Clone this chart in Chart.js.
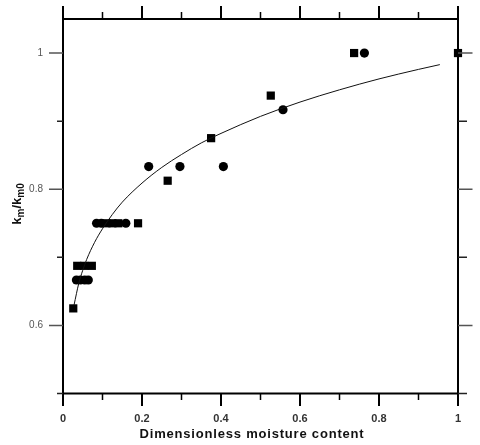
<!DOCTYPE html>
<html>
<head>
<meta charset="utf-8">
<script src="https://cdn.jsdelivr.net/npm/chart.js@4.4.1/dist/chart.umd.min.js"></script>
<style>
  html, body { margin: 0; padding: 0; background: #fff; }
  #wrap { width: 480px; height: 445px; position: relative; }
</style>
</head>
<body>
<div id="wrap"><canvas id="c" width="480" height="445"></canvas></div>
<script>
// ---- data ----
const squareX = [0.026, 0.036, 0.054, 0.073, 0.110, 0.125, 0.140, 0.190, 0.265, 0.375, 0.526, 0.737, 1.000];
const squareY = [0.625, 0.6875, 0.6875, 0.6875, 0.75, 0.75, 0.75, 0.75, 0.8125, 0.875, 0.9375, 1.0, 1.0];
const circleX = [0.034, 0.044, 0.055, 0.064, 0.085, 0.097, 0.159, 0.217, 0.296, 0.406, 0.557, 0.763];
const circleY = [0.6667, 0.6667, 0.6667, 0.6667, 0.75, 0.75, 0.75, 0.8333, 0.8333, 0.8333, 0.9167, 1.0];
const curveX = [0.028, 0.040, 0.050, 0.060, 0.080, 0.100, 0.125, 0.150, 0.200, 0.250, 0.300, 0.350, 0.400, 0.500, 0.600, 0.700, 0.800, 0.900, 0.954];
const curveY = [0.630, 0.662, 0.681, 0.697, 0.722, 0.742, 0.763, 0.781, 0.809, 0.832, 0.851, 0.868, 0.882, 0.907, 0.928, 0.946, 0.962, 0.976, 0.983];

const xTickValues = [0, 0.1, 0.2, 0.3, 0.4, 0.5, 0.6, 0.7, 0.8, 0.9, 1.0];
const xMajor = [0, 0.2, 0.4, 0.6, 0.8, 1.0];
const xTickLabels = ['0', '0.2', '0.4', '0.6', '0.8', '1'];
const yTickValues = [0.5, 0.6, 0.7, 0.8, 0.9, 1.0];
const yMajor = [0.6, 0.8, 1.0];
const yTickLabels = ['0.6', '0.8', '1'];
const xTitle = 'Dimensionless moisture content';
const yTitleParts = [['k', false], ['m', true], ['/k', false], ['m0', true]];

const pts = (xs, ys) => xs.map((x, i) => ({ x: x, y: ys[i] }));
const near = (a, b) => Math.abs(a - b) < 1e-6;
const labelFor = (majors, labels) => v => {
  const i = majors.findIndex(m => near(m, v));
  return i >= 0 ? labels[i] : '';
};

const framePlugin = {
  id: 'frame',
  afterDraw(chart) {
    const ctx = chart.ctx;
    const xs = chart.scales.x, ys = chart.scales.y;
    const ca = chart.chartArea;
    ctx.save();
    // axis lines
    ctx.strokeStyle = '#000';
    ctx.lineWidth = 2;
    ctx.beginPath();
    ctx.moveTo(ca.left, ca.top); ctx.lineTo(ca.right, ca.top);
    ctx.moveTo(ca.left, ca.bottom); ctx.lineTo(ca.right, ca.bottom);
    ctx.moveTo(ca.left, ca.top); ctx.lineTo(ca.left, ca.bottom);
    ctx.moveTo(ca.right, ca.top); ctx.lineTo(ca.right, ca.bottom);
    ctx.stroke();
    // x ticks (top up, bottom down)
    xTickValues.forEach(v => {
      const px = xs.getPixelForValue(v);
      const major = xMajor.some(m => near(m, v));
      ctx.lineWidth = major ? 2 : 1.5;
      ctx.strokeStyle = '#000';
      ctx.beginPath();
      ctx.moveTo(px, ca.bottom); ctx.lineTo(px, ca.bottom + (major ? 12.5 : 6.5));
      ctx.moveTo(px, ca.top); ctx.lineTo(px, ca.top - (major ? 13 : 7));
      ctx.stroke();
    });
    // y ticks (left outward, right outward)
    yTickValues.forEach(v => {
      const py = ys.getPixelForValue(v);
      const major = yMajor.some(m => near(m, v));
      ctx.lineWidth = 1.5;
      ctx.strokeStyle = major ? '#555' : '#222';
      ctx.beginPath();
      ctx.moveTo(ca.left, py); ctx.lineTo(ca.left - (major ? 14 : 6), py);
      ctx.moveTo(ca.right, py); ctx.lineTo(ca.right + (major ? 14.5 : 9), py);
      ctx.stroke();
    });
    // x title
    ctx.fillStyle = '#111';
    ctx.font = 'bold 13px "Liberation Sans", Arial, sans-serif';
    ctx.textAlign = 'center';
    ctx.textBaseline = 'alphabetic';
    ctx.letterSpacing = '0.8px';
    ctx.fillText(xTitle, 252, 438);
    ctx.letterSpacing = '0px';
    // y title rotated with subscripts
    ctx.translate(21, 204);
    ctx.rotate(-Math.PI / 2);
    const big = 'bold 13px "Liberation Sans", Arial, sans-serif';
    const small = 'bold 10px "Liberation Sans", Arial, sans-serif';
    let total = 0;
    yTitleParts.forEach(([t, sub]) => { ctx.font = sub ? small : big; total += ctx.measureText(t).width; });
    let cx = -total / 2;
    ctx.textAlign = 'left';
    yTitleParts.forEach(([t, sub]) => {
      ctx.font = sub ? small : big;
      ctx.fillText(t, cx, sub ? 3 : 0);
      cx += ctx.measureText(t).width;
    });
    ctx.restore();
  }
};

new Chart(document.getElementById('c'), {
  type: 'scatter',
  data: {
    datasets: [
      {
        label: 'fit',
        data: pts(curveX, curveY),
        showLine: true,
        borderColor: '#111',
        borderWidth: 1,
        pointRadius: 0,
        fill: false,
        cubicInterpolationMode: 'monotone'
      },
      {
        label: 'squares',
        data: pts(squareX, squareY),
        pointStyle: 'rect',
        pointRadius: 5.8,
        backgroundColor: '#000',
        borderColor: '#000',
        borderWidth: 0,
        clip: false
      },
      {
        label: 'circles',
        data: pts(circleX, circleY),
        pointStyle: 'circle',
        pointRadius: 4.6,
        backgroundColor: '#000',
        borderColor: '#000',
        borderWidth: 0,
        clip: false
      }
    ]
  },
  options: {
    responsive: false,
    animation: false,
    devicePixelRatio: 1,
    layout: { padding: { left: 0, top: 19, right: 22, bottom: 0 } },
    plugins: { legend: { display: false }, tooltip: { enabled: false } },
    scales: {
      x: {
        type: 'linear', position: 'bottom', min: 0, max: 1,
        afterFit(s) { s.height = 51.5; s.paddingLeft = 0; s.paddingRight = 0; },
        grid: { display: false, drawTicks: false },
        border: { display: false },
        ticks: {
          stepSize: 0.1, autoSkip: false, maxRotation: 0, padding: 19,
          color: '#333',
          font: { family: '"Liberation Sans", Arial, sans-serif', size: 11, weight: 'bold' },
          callback: labelFor(xMajor, xTickLabels)
        }
      },
      y: {
        type: 'linear', position: 'left', min: 0.5, max: 1.05,
        afterFit(s) { s.width = 63; s.paddingTop = 0; s.paddingBottom = 0; },
        grid: { display: false, drawTicks: false },
        border: { display: false },
        ticks: {
          stepSize: 0.1, autoSkip: false, padding: 20,
          color: '#555',
          font: { family: '"Liberation Sans", Arial, sans-serif', size: 10 },
          callback: labelFor(yMajor, yTickLabels)
        }
      }
    }
  },
  plugins: [framePlugin]
});
</script>
</body>
</html>
